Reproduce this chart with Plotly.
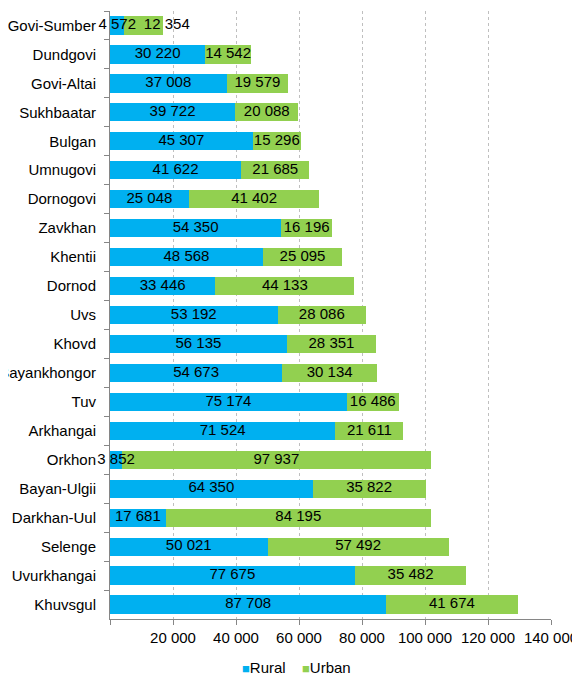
import plotly.graph_objects as go

provinces = ["Govi-Sumber", "Dundgovi", "Govi-Altai", "Sukhbaatar", "Bulgan", "Umnugovi",
             "Dornogovi", "Zavkhan", "Khentii", "Dornod", "Uvs", "Khovd", "Bayankhongor",
             "Tuv", "Arkhangai", "Orkhon", "Bayan-Ulgii", "Darkhan-Uul", "Selenge",
             "Uvurkhangai", "Khuvsgul"]
rural = [4572, 30220, 37008, 39722, 45307, 41622, 25048, 54350, 48568, 33446, 53192,
         56135, 54673, 75174, 71524, 3852, 64350, 17681, 50021, 77675, 87708]
urban = [12354, 14542, 19579, 20088, 15296, 21685, 41402, 16196, 25095, 44133, 28086,
         28351, 30134, 16486, 21611, 97937, 35822, 84195, 57492, 35482, 41674]
tick_vals = [0, 20000, 40000, 60000, 80000, 100000, 120000, 140000]
tick_text = ["", "20 000", "40 000", "60 000", "80 000", "100 000", "120 000", "140 000"]
series_names = ["Rural", "Urban"]
series_colors = ["#00B0F0", "#92D050"]

FONT = "Liberation Sans, Arial"


def fmt(v):
    return f"{v:,}".replace(",", " ")


fig = go.Figure()
for name, vals, color in zip(series_names, [rural, urban], series_colors):
    fig.add_trace(go.Bar(y=provinces, x=vals, name=name, orientation="h",
                         marker=dict(color=color, line=dict(width=0)),
                         showlegend=False, hoverinfo="x+y+name"))

# data labels on top of both segments (centre of each segment)
lab_x = [r / 2 for r in rural] + [r + u / 2 for r, u in zip(rural, urban)]
lab_y = provinces + provinces
lab_t = [fmt(v) for v in rural] + [fmt(v) for v in urban]
lab_pos = ["middle center"] * (2 * len(provinces))
# the first urban label sits beside its tiny segment so it does not collide with its neighbour
lab_pos[len(provinces)] = "middle right"
fig.add_trace(go.Scatter(x=lab_x, y=lab_y, text=lab_t, mode="text",
                         textposition=lab_pos, cliponaxis=False, showlegend=False,
                         hoverinfo="skip",
                         textfont=dict(color="black", size=15, family=FONT)))

# legend entries drawn as text
leg_x = [0.295, 0.4314]
for name, color, x in zip(series_names, series_colors, leg_x):
    fig.add_annotation(xref="paper", yref="paper", x=x, y=-0.0797,
                       xanchor="left", yanchor="middle", showarrow=False,
                       text=f"<span style='color:{color};font-size:13px'>■</span>{name}",
                       font=dict(family=FONT, size=15, color="black"))

fig.update_layout(
    barmode="stack",
    bargap=0.37,
    width=572, height=670,
    margin=dict(l=102, r=29, t=3, b=59, autoexpand=False),
    paper_bgcolor="white", plot_bgcolor="white",
    font=dict(family=FONT, size=15, color="black"),
    showlegend=False,
    xaxis=dict(range=[0, 140000], tickvals=tick_vals, ticktext=tick_text,
               showgrid=True, gridcolor="#BFBFBF", griddash="dot", gridwidth=1,
               showline=True, linecolor="#868686", linewidth=1,
               ticks="outside", ticklen=5, tickcolor="#868686",
               zeroline=False, automargin=False),
    yaxis=dict(range=[len(provinces) - 0.5, -0.5], autorange=False,
               categoryorder="array", categoryarray=provinces,
               showline=True, linecolor="#868686", linewidth=1,
               ticks="outside", ticklen=5, tickcolor="#868686", tickson="boundaries",
               showgrid=False, ticklabelstandoff=10, automargin=False),
)

fig.write_html("out.html")
